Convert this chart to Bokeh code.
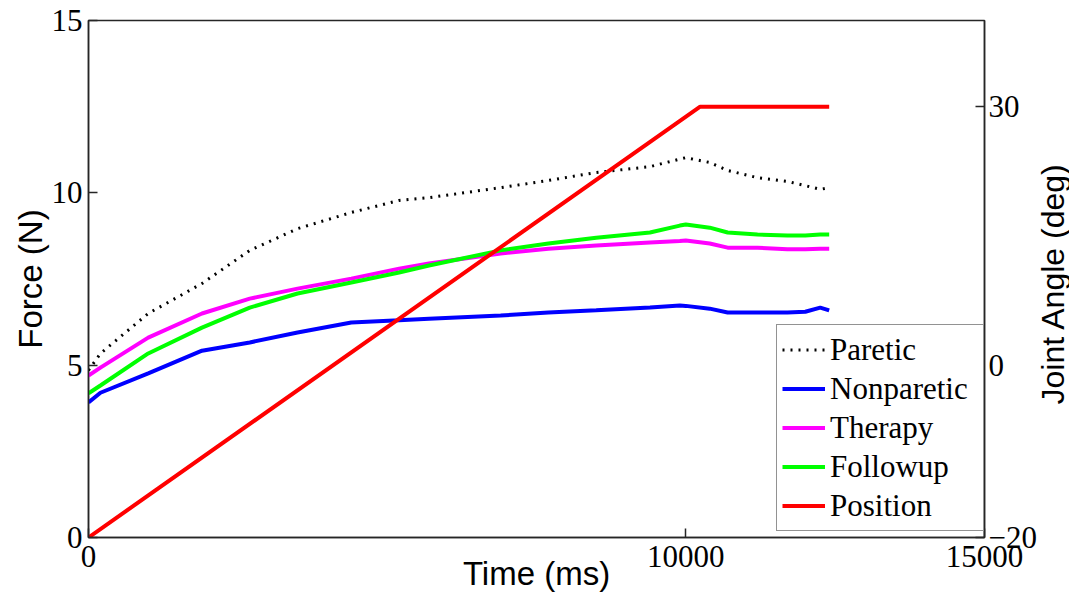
from bokeh.plotting import figure
from bokeh.layouts import row
from bokeh.models import Range1d, LinearAxis, FixedTicker, Legend, LegendItem, Label
from bokeh.embed import file_html
from bokeh.resources import INLINE
import math

# ---- data ----
time_ms = [0, 200, 1000, 1900, 2700, 3500, 4400, 5200, 5700, 6900, 7700, 8500,
           9400, 9900, 10000, 10400, 10700, 11200, 11700, 12000, 12250, 12400]
paretic = [4.85, 5.34, 6.5, 7.37, 8.33, 8.96, 9.43, 9.78, 9.86, 10.15, 10.36, 10.59,
           10.76, 10.98, 11.02, 10.88, 10.65, 10.44, 10.33, 10.21, 10.1, 10.15]
nonparetic = [3.92, 4.2, 4.76, 5.42, 5.66, 5.95, 6.24, 6.3, 6.35, 6.44, 6.53, 6.59,
              6.67, 6.73, 6.72, 6.64, 6.53, 6.53, 6.53, 6.55, 6.67, 6.59]
therapy = [4.7, 4.93, 5.8, 6.5, 6.93, 7.22, 7.51, 7.8, 7.95, 8.24, 8.38, 8.47,
           8.56, 8.6, 8.62, 8.53, 8.41, 8.41, 8.36, 8.36, 8.38, 8.38]
followup = [4.18, 4.41, 5.34, 6.09, 6.67, 7.08, 7.4, 7.69, 7.89, 8.33, 8.53, 8.7,
            8.85, 9.05, 9.08, 8.99, 8.85, 8.79, 8.76, 8.76, 8.79, 8.79]
pos_time = [0, 10240, 12400]
pos_angle = [-20, 30, 30]

x_ticks = [0, 10000, 15000]
force_ticks = [0, 5, 10, 15]
angle_ticks = [-20, 0, 30]

SERIF = "Liberation Serif"
SANS = "Liberation Sans"
AX = "#262626"

p = figure(width=1039, height=595, output_backend="svg", toolbar_location=None,
           x_range=Range1d(0, 15000), y_range=Range1d(0, 15),
           min_border_left=88, min_border_right=50, min_border_top=20,
           min_border_bottom=58, background_fill_color="white",
           border_fill_color="white")
p.extra_y_ranges = {"angle": Range1d(-20, 40)}
p.grid.visible = False
p.outline_line_color = AX
p.outline_line_width = 1.5

right = LinearAxis(y_range_name="angle")
p.add_layout(right, "right")

p.xaxis[0].axis_label = "Time (ms)"
p.yaxis[0].axis_label = "Force (N)"

for ax, ticks, standoff, lab_standoff in ((p.xaxis[0], x_ticks, 8, -15),
                                          (p.yaxis[0], force_ticks, 6, 0),
                                          (right, angle_ticks, 4, 0)):
    ax.ticker = FixedTicker(ticks=ticks)
    ax.major_label_text_font = SERIF
    ax.major_label_text_font_size = "31px"
    ax.major_label_text_color = "black"
    ax.major_label_standoff = standoff
    ax.axis_label_text_font = SANS
    ax.axis_label_text_font_size = "33px"
    ax.axis_label_text_font_style = "normal"
    ax.axis_label_text_color = "black"
    ax.axis_label_standoff = lab_standoff
    ax.axis_line_color = AX
    ax.axis_line_width = 1.5
    ax.major_tick_line_color = AX
    ax.major_tick_line_width = 1.5
    ax.major_tick_in = 9
    ax.major_tick_out = 0
    ax.minor_tick_line_color = None

r_par = p.line(time_ms, paretic, line_color="black", line_width=3, line_dash="2 6")
r_non = p.line(time_ms, nonparetic, line_color="#0000ff", line_width=4)
r_the = p.line(time_ms, therapy, line_color="#ff00ff", line_width=4)
r_fol = p.line(time_ms, followup, line_color="#00ff00", line_width=4)
r_pos = p.line(pos_time, pos_angle, line_color="#ff0000", line_width=4,
               y_range_name="angle")

legend = Legend(items=[LegendItem(label="Paretic", renderers=[r_par]),
                       LegendItem(label="Nonparetic", renderers=[r_non]),
                       LegendItem(label="Therapy", renderers=[r_the]),
                       LegendItem(label="Followup", renderers=[r_fol]),
                       LegendItem(label="Position", renderers=[r_pos])],
                location=(688, 6), label_text_font=SERIF, label_text_font_size="31px",
                label_text_color="black", glyph_width=43, glyph_height=39,
                label_height=39, label_width=148, label_standoff=5, padding=5,
                spacing=0, margin=0, border_line_color=AX, border_line_width=1.5,
                background_fill_color="white", background_fill_alpha=1.0)
p.add_layout(legend, "center")

# narrow companion panel carrying the right-hand axis title (reads bottom-to-top)
p2 = figure(width=30, height=595, output_backend="svg", toolbar_location=None,
            x_range=Range1d(0, 1), y_range=Range1d(0, 1),
            x_axis_location=None, y_axis_location=None,
            min_border_left=0, min_border_right=0, min_border_top=0,
            min_border_bottom=0, background_fill_color="white",
            border_fill_color="white")
p2.grid.visible = False
p2.outline_line_color = None
p2.add_layout(Label(x=13, y=254, x_units="screen", y_units="screen",
                    text="Joint Angle (deg)", angle=math.pi / 2,
                    text_align="center", text_baseline="middle",
                    text_font=SANS, text_font_size="32px", text_color="black"))

layout = row(p, p2, spacing=0)
open("out.html", "w").write(file_html(layout, INLINE))
